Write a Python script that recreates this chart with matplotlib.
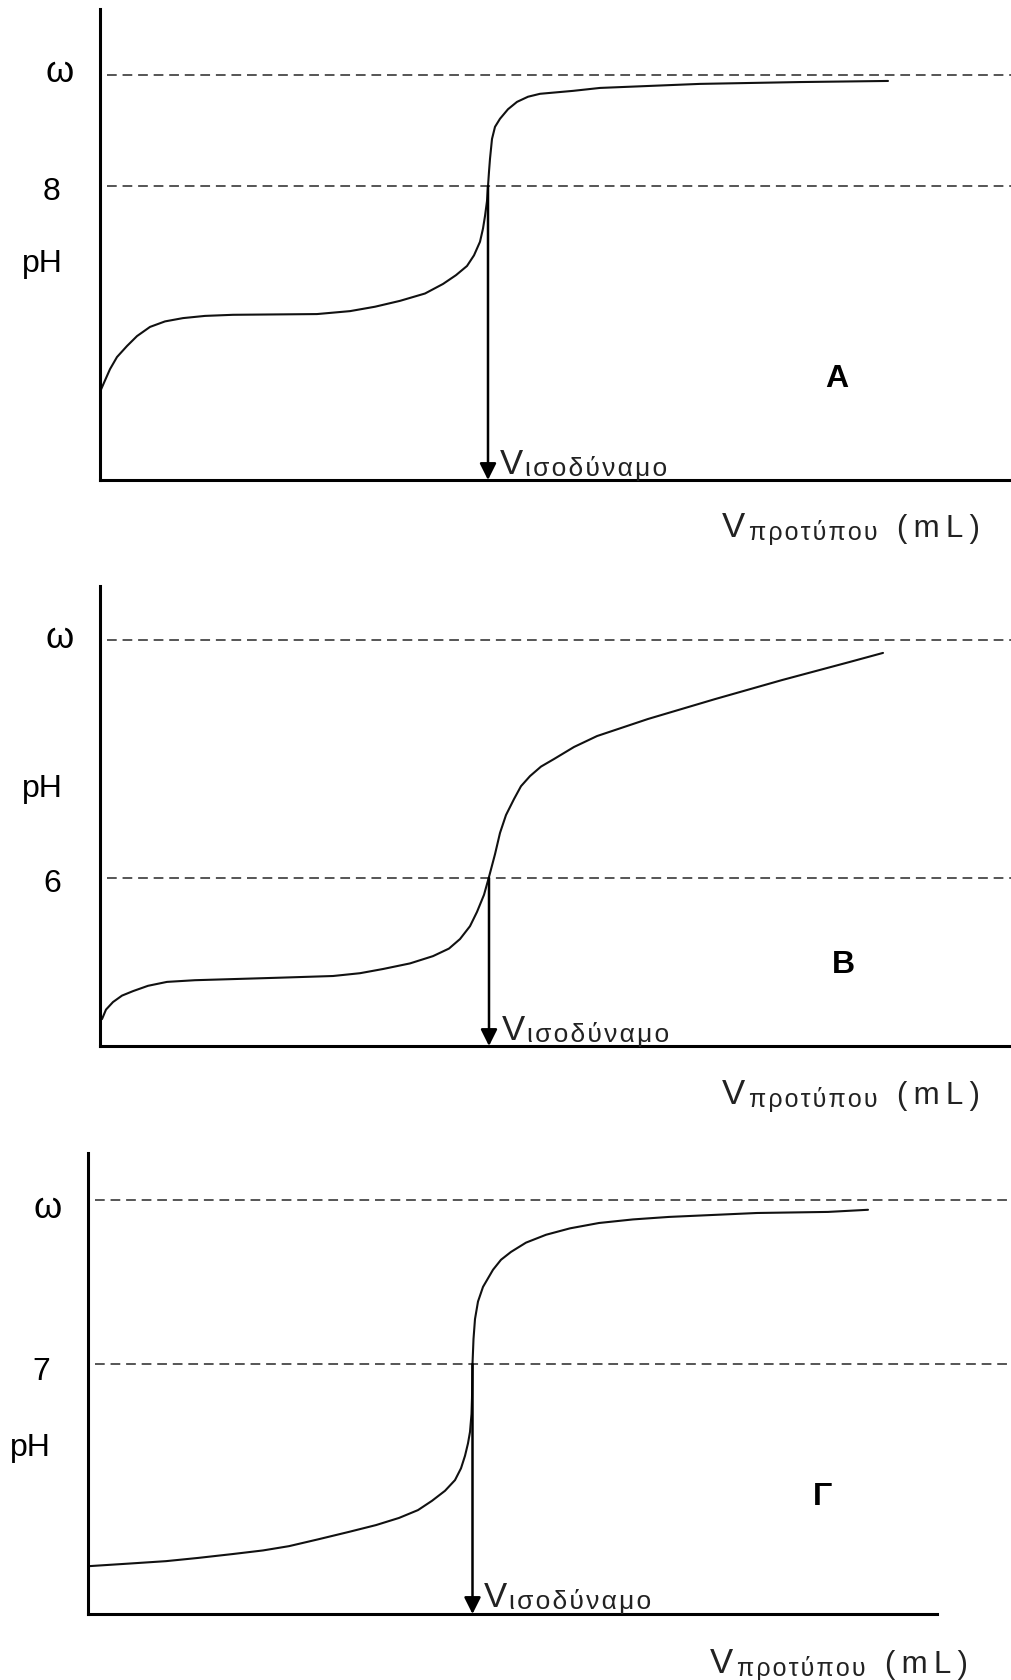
import matplotlib
matplotlib.use("Agg")
import matplotlib.pyplot as plt

plt.rcParams['font.family'] = ['Liberation Sans', 'DejaVu Sans']

# titration curves, x in mL, y in pH
vol_a = [0.0, 0.4, 1.0, 1.7, 2.7, 3.7, 5.0, 6.5, 8.3, 10.5, 13.3, 17.5, 21.7, 25.0,
         27.5, 30.0, 32.5, 34.3, 35.6, 36.7, 37.4, 38.0, 38.3, 38.5, 38.7, 38.8,
         38.9, 39.0, 39.2, 39.5, 40.0, 40.8, 41.7, 42.8, 44.0, 47.3, 50.0, 60.0,
         70.0, 78.8]
ph_a = [2.40, 2.65, 3.02, 3.35, 3.65, 3.92, 4.17, 4.32, 4.41, 4.47, 4.50, 4.51, 4.52,
        4.60, 4.72, 4.88, 5.08, 5.34, 5.58, 5.83, 6.12, 6.49, 6.85, 7.19, 7.60, 8.00,
        8.40, 8.75, 9.29, 9.62, 9.84, 10.10, 10.30, 10.44, 10.52, 10.60, 10.68, 10.79,
        10.84, 10.87]

vol_b = [0.2, 0.6, 1.3, 2.2, 3.3, 4.8, 6.7, 9.5, 13.3, 18.0, 23.3, 26.0, 28.3, 31.0,
         33.3, 34.9, 36.0, 37.0, 37.7, 38.4, 38.9, 39.5, 40.0, 40.6, 41.4, 42.1, 43.0,
         44.1, 45.4, 47.4, 49.7, 54.8, 61.5, 68.2, 74.9, 78.3]
ph_b = [0.96, 1.30, 1.57, 1.80, 1.96, 2.15, 2.29, 2.35, 2.39, 2.44, 2.50, 2.60, 2.75,
        2.95, 3.21, 3.48, 3.82, 4.28, 4.79, 5.40, 6.04, 6.85, 7.61, 8.25, 8.82, 9.28,
        9.64, 9.98, 10.25, 10.68, 11.07, 11.68, 12.39, 13.07, 13.71, 14.04]

vol_c = [0.1, 4.0, 7.8, 11.0, 14.5, 17.5, 20.1, 23.0, 26.1, 28.8, 31.1, 33.0, 34.4,
         35.7, 36.7, 37.3, 37.7, 38.0, 38.2, 38.35, 38.4, 38.45, 38.55, 38.7, 39.0,
         39.5, 40.5, 41.3, 42.3, 43.8, 45.8, 48.2, 51.1, 54.5, 58.1, 66.9, 74.0, 78.0]
ph_c = [1.34, 1.41, 1.48, 1.57, 1.68, 1.78, 1.90, 2.09, 2.30, 2.49, 2.69, 2.91, 3.17,
        3.45, 3.75, 4.08, 4.43, 4.78, 5.10, 5.60, 6.05, 7.00, 7.70, 8.26, 8.75, 9.16,
        9.64, 9.92, 10.14, 10.40, 10.62, 10.80, 10.95, 11.05, 11.12, 11.23, 11.26, 11.32]

omega = [11.04, 14.5, 11.6]        # level of the omega line in each panel
eq_ph = [8, 6, 7]                  # pH at the equivalence point
eq_vol = [38.8, 38.9, 38.45]       # V equivalence
panel_names = ['A', 'B', 'Γ']

W, H = 1012, 1681
fig = plt.figure(figsize=(W / 100, H / 100), dpi=100)


def fx(px):
    return px / W


def fy(py):
    return 1 - py / H


# axes boxes in pixels: left, bottom, top, x max, y max, end of x axis
boxes = [
    (100, 481, 10, 91.2, 12.83, 91.2),
    (100, 1047, 587, 91.2, 16.43, 91.2),
    (88, 1615, 1154, 92.4, 12.91, 84.9),
]
curves = [(vol_a, ph_a), (vol_b, ph_b), (vol_c, ph_c)]

for i, (left, bottom, top, xmax, ymax, xend) in enumerate(boxes):
    ax = fig.add_axes([fx(left), fy(bottom), (W - left) / W, (bottom - top) / H])
    ax.set_xlim(0, xmax)
    ax.set_ylim(0, ymax)
    for s in ['top', 'right']:
        ax.spines[s].set_visible(False)
    for s in ['left', 'bottom']:
        ax.spines[s].set_linewidth(2.2)
        ax.spines[s].set_color('black')
    ax.spines['bottom'].set_bounds(0, xend)
    ax.set_xticks([])
    ax.set_yticks([])

    ax.axhline(omega[i], xmin=0.008, color='#555555', lw=1.4, dashes=(5, 3))
    ax.axhline(eq_ph[i], xmin=0.008, color='#555555', lw=1.4, dashes=(5, 3))

    x, y = curves[i]
    ax.plot(x, y, color='#111111', lw=1.5, solid_joinstyle='round',
            solid_capstyle='round')

    ax.annotate('', xy=(eq_vol[i], 0), xytext=(eq_vol[i], eq_ph[i]),
                arrowprops=dict(arrowstyle='-|>', color='black', lw=1.8,
                                mutation_scale=25, shrinkA=0, shrinkB=0))

# left labels: (text, x center, baseline) in pixels
left_labels = [
    [('ω', 60, 82), ('8', 52, 200), ('pH', 42, 272)],
    [('ω', 60, 648), ('pH', 42, 797), ('6', 52, 892)],
    [('ω', 48, 1218), ('7', 41, 1380), ('pH', 30, 1456)],
]
for group in left_labels:
    for s, x, y in group:
        size = 26 if s == 'ω' else 23
        fig.text(fx(x), fy(y), s, fontsize=size, ha='center', va='baseline')

# panel letters
for s, x, y in zip(panel_names, [837, 843, 823], [387, 973, 1505]):
    fig.text(fx(x), fy(y), s, fontsize=23, fontweight='bold', ha='center', va='baseline')

# V equivalence labels
hair = '\u200a'
thin = '\u2009'
for x, y in [(500, 474), (502, 1040), (484, 1607)]:
    fig.text(fx(x), fy(y), 'V', fontsize=25, ha='left', va='baseline', color='#222222')
    fig.text(fx(x + 25), fy(y + 2), hair.join('ισοδύναμο'), fontsize=19, ha='left',
             va='baseline', color='#222222')

# x axis labels
for x, y in [(722, 537), (722, 1104), (710, 1673)]:
    fig.text(fx(x), fy(y), 'V', fontsize=25, ha='left', va='baseline', color='#222222')
    fig.text(fx(x + 27), fy(y + 3), hair.join('προτύπου'), fontsize=18, ha='left',
             va='baseline', color='#222222')
    fig.text(fx(x + 175), fy(y), thin.join('(mL)'), fontsize=22.5, ha='left',
             va='baseline', color='#222222')

fig.savefig('out.png', dpi=100)
